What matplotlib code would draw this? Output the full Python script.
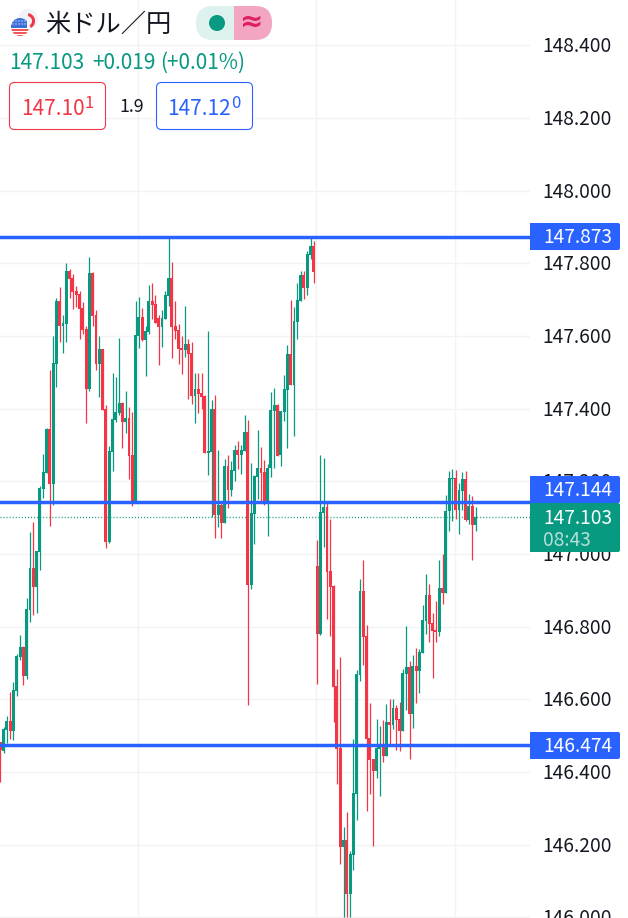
import numpy as np
import matplotlib
matplotlib.use("Agg")
import matplotlib.pyplot as plt
from matplotlib.patches import Circle, FancyBboxPatch, Rectangle, Wedge
from matplotlib.transforms import ScaledTranslation

plt.rcParams["font.family"] = ["Noto Sans CJK JP", "DejaVu Sans"]

UP = "#089981"
DOWN = "#F23645"
BLUE = "#2962FF"
GRID = "#F3F3F3"
DARK = "#131722"

opens = [
    146.483, 146.458, 146.516, 146.540, 146.513, 146.623, 146.717, 146.744, 146.664, 146.846,
    146.961, 146.909, 147.006, 147.179, 147.223, 147.344, 147.193, 147.523, 147.696, 147.628,
    147.633, 147.779, 147.760, 147.724, 147.716, 147.677, 147.619, 147.454, 147.773, 147.658,
    147.523, 147.564, 147.399, 147.033, 147.281, 147.369, 147.388, 147.416, 147.363, 147.374,
    147.272, 147.146, 147.600, 147.652, 147.589, 147.611, 147.696, 147.688, 147.650, 147.625,
    147.647, 147.710, 147.760, 147.628, 147.617, 147.567, 147.562, 147.578, 147.553, 147.435,
    147.454, 147.443, 147.435, 147.278, 147.281, 147.399, 147.107, 147.135, 147.085, 147.242,
    147.176, 147.228, 147.286, 147.272, 147.284, 147.336, 146.915, 147.110, 147.212, 147.237,
    147.226, 147.140, 147.237, 147.394, 147.410, 147.272, 147.391, 147.451, 147.551, 147.465,
    147.639, 147.696, 147.768, 147.732, 147.823, 147.848, 146.967, 146.780, 147.113, 147.129,
    146.953, 146.912, 146.637, 146.466, 146.194, 146.213, 146.064, 146.171, 146.339, 146.667,
    146.898, 146.774, 146.494, 146.436, 146.403, 146.463, 146.472, 146.444, 146.538, 146.529,
    146.576, 146.546, 146.513, 146.670, 146.689, 146.560, 146.692, 146.678, 146.728, 146.816,
    146.887, 146.810, 146.791, 146.785, 146.906, 146.893, 147.118, 147.206, 147.209, 147.121,
    147.173, 147.206, 147.094, 147.132, 147.080,
]
closes = [
    146.461, 146.518, 146.540, 146.513, 146.626, 146.719, 146.744, 146.664, 146.849, 146.961,
    146.909, 147.008, 147.182, 147.226, 147.344, 147.193, 147.526, 147.696, 147.628, 147.636,
    147.779, 147.757, 147.721, 147.713, 147.674, 147.617, 147.454, 147.773, 147.655, 147.523,
    147.564, 147.396, 147.033, 147.284, 147.372, 147.391, 147.416, 147.363, 147.374, 147.270,
    147.146, 147.603, 147.652, 147.589, 147.614, 147.696, 147.685, 147.636, 147.625, 147.650,
    147.713, 147.760, 147.625, 147.614, 147.564, 147.562, 147.578, 147.551, 147.435, 147.454,
    147.440, 147.432, 147.278, 147.284, 147.399, 147.107, 147.135, 147.085, 147.242, 147.176,
    147.231, 147.286, 147.272, 147.286, 147.336, 146.915, 147.113, 147.215, 147.237, 147.223,
    147.140, 147.237, 147.396, 147.410, 147.270, 147.394, 147.454, 147.551, 147.465, 147.641,
    147.699, 147.768, 147.732, 147.826, 147.848, 147.776, 146.780, 147.116, 147.129, 146.950,
    146.909, 146.634, 146.463, 146.194, 146.213, 146.064, 146.174, 146.342, 146.670, 146.898,
    146.772, 146.491, 146.433, 146.403, 146.466, 146.469, 146.444, 146.538, 146.529, 146.576,
    146.543, 146.513, 146.672, 146.689, 146.560, 146.692, 146.678, 146.730, 146.818, 146.887,
    146.807, 146.788, 146.785, 146.906, 146.893, 147.118, 147.209, 147.209, 147.121, 147.176,
    147.206, 147.094, 147.132, 147.080, 147.103,
]
highs = [
    146.483, 146.524, 146.554, 146.620, 146.648, 146.725, 146.777, 146.747, 146.879, 147.061,
    147.088, 147.008, 147.187, 147.275, 147.347, 147.506, 147.600, 147.705, 147.735, 147.658,
    147.801, 147.784, 147.771, 147.738, 147.724, 147.694, 147.628, 147.818, 147.776, 147.672,
    147.600, 147.564, 147.410, 147.297, 147.498, 147.487, 147.595, 147.418, 147.449, 147.405,
    147.391, 147.696, 147.707, 147.677, 147.628, 147.740, 147.746, 147.713, 147.658, 147.672,
    147.724, 147.873, 147.804, 147.696, 147.633, 147.600, 147.683, 147.592, 147.584, 147.498,
    147.498, 147.498, 147.438, 147.614, 147.424, 147.438, 147.286, 147.146, 147.261, 147.272,
    147.256, 147.300, 147.311, 147.300, 147.383, 147.369, 147.250, 147.217, 147.341, 147.295,
    147.259, 147.248, 147.446, 147.457, 147.413, 147.394, 147.493, 147.575, 147.699, 147.680,
    147.746, 147.779, 147.779, 147.834, 147.870, 147.862, 147.039, 147.272, 147.264, 147.146,
    147.096, 146.915, 146.683, 146.717, 146.249, 146.290, 146.182, 146.491, 146.681, 146.931,
    146.983, 146.805, 146.590, 146.436, 146.546, 146.527, 146.543, 146.587, 146.601, 146.601,
    146.584, 146.593, 146.683, 146.802, 146.705, 146.722, 146.741, 146.739, 146.860, 146.945,
    146.917, 146.838, 146.871, 146.983, 147.000, 147.162, 147.228, 147.234, 147.231, 147.195,
    147.226, 147.228, 147.165, 147.160, 147.129,
]
lows = [
    146.372, 146.452, 146.480, 146.491, 146.488, 146.609, 146.708, 146.639, 146.656, 146.813,
    146.832, 146.838, 146.956, 147.154, 147.223, 147.077, 147.135, 147.460, 147.584, 147.553,
    147.584, 147.705, 147.674, 147.680, 147.592, 147.606, 147.361, 147.449, 147.628, 147.506,
    147.432, 147.396, 147.017, 147.030, 147.228, 147.363, 147.383, 147.292, 147.333, 147.206,
    147.132, 147.146, 147.567, 147.586, 147.490, 147.606, 147.647, 147.636, 147.520, 147.570,
    147.647, 147.683, 147.540, 147.592, 147.523, 147.495, 147.542, 147.427, 147.413, 147.361,
    147.388, 147.399, 147.278, 147.217, 147.102, 147.044, 147.074, 147.044, 147.085, 147.127,
    147.160, 147.201, 147.234, 147.220, 147.284, 146.584, 146.904, 147.028, 147.151, 147.146,
    147.135, 147.050, 147.212, 147.237, 147.270, 147.242, 147.366, 147.292, 147.465, 147.325,
    147.592, 147.696, 147.702, 147.713, 147.812, 147.746, 146.642, 146.777, 147.019, 146.821,
    146.774, 146.538, 146.367, 146.147, 146.000, 146.000, 146.000, 146.130, 146.268, 146.650,
    146.694, 146.293, 146.339, 146.196, 146.383, 146.334, 146.427, 146.444, 146.477, 146.518,
    146.461, 146.458, 146.513, 146.571, 146.436, 146.521, 146.590, 146.617, 146.728, 146.780,
    146.758, 146.659, 146.758, 146.774, 146.862, 146.893, 147.063, 147.091, 147.096, 147.055,
    147.121, 147.091, 147.083, 146.983, 147.063,
]

y_ticks = [146.0, 146.2, 146.4, 146.6, 146.8, 147.0, 147.2, 147.4, 147.6, 147.8, 148.0, 148.2, 148.4]
time_grid = [42, 96, 138]
levels = [147.873, 147.144, 146.474]
last_price = 147.103


def price_tag(ov, top, bottom, color):
    # square on the chart side, small round corners on the right
    ov.add_patch(FancyBboxPatch((534, top), 86, bottom - top, boxstyle="round,pad=0,rounding_size=2",
                                fc=color, ec="none", zorder=3))
    ov.add_patch(Rectangle((530, top), 20, bottom - top, fc=color, ec="none", zorder=3))


def main():
    fig = plt.figure(figsize=(6.28, 9.18), dpi=100, facecolor="white")
    ax = fig.add_axes([0, 0, 530 / 628, 1])

    idx = np.arange(len(opens))
    o, h, l, c = map(np.array, (opens, highs, lows, closes))
    colors = np.where(c >= o, UP, DOWN)

    for t in y_ticks:
        ax.axhline(t, color=GRID, lw=1, zorder=0)
    for t in time_grid:
        ax.axvline(t - 0.2, color=GRID, lw=1, zorder=0)

    ax.vlines(idx, l, h, colors=colors, lw=0.9, zorder=2)
    ax.bar(idx, np.abs(c - o), bottom=np.minimum(o, c), width=0.88, color=colors, linewidth=0, zorder=2)

    ax.axhline(last_price, color=UP, lw=1, dashes=(0.7, 1.5), zorder=1)
    for lev in levels:
        ax.axhline(lev, color=BLUE, lw=2.5, zorder=3)

    ax.set_xlim(-0.09, 160.5)
    ax.set_ylim(145.998, 148.525)
    ax.yaxis.tick_right()
    ax.set_yticks(y_ticks, [f"{t:.3f}" for t in y_ticks])
    ax.tick_params(axis="y", length=0, pad=8.8, labelsize=13.8, labelcolor=DARK)
    ax.set_xticks([])
    lift = ScaledTranslation(0, 1 / 100, fig.dpi_scale_trans)
    for lab in ax.get_yticklabels():
        lab.set_transform(lab.get_transform() + lift)
    for s in ax.spines.values():
        s.set_visible(False)

    # header and price tags, laid out in pixels on a clear top layer
    ov = fig.add_axes([0, 0, 1, 1], zorder=5)
    ov.set_xlim(0, 628)
    ov.set_ylim(918, 0)
    ov.axis("off")
    ov.patch.set_alpha(0)

    price_tag(ov, 223, 250, BLUE)
    price_tag(ov, 476, 503, BLUE)
    price_tag(ov, 503, 552, UP)
    price_tag(ov, 732, 759, BLUE)
    ov.text(577.5, 237.5, "147.873", color="white", fontsize=13.8, ha="center", va="center", zorder=4)
    ov.text(577.5, 490.5, "147.144", color="white", fontsize=13.8, ha="center", va="center", zorder=4)
    ov.text(577.5, 518, "147.103", color="white", fontsize=13.8, ha="center", va="center", zorder=4)
    ov.text(543, 541, "08:43", color="#B5E0D8", fontsize=13.8, ha="left", va="center", zorder=4)
    ov.text(577.5, 746.5, "146.474", color="white", fontsize=13.8, ha="center", va="center", zorder=4)

    # flag icon
    ov.add_patch(Circle((28, 19), 10, fc="#F0F3FA", ec="none"))
    ov.add_patch(Wedge((27, 21), 8, 280, 60, width=3, fc="#F23645", ec="none"))
    ov.add_patch(Circle((20, 27), 9.5, fc="white", ec="none"))
    flag = Circle((20, 27), 9, transform=ov.transData)
    for y0 in (28.5, 32, 35):
        r = ov.add_patch(Rectangle((10, y0), 20, 2, fc="#F2555A", ec="none"))
        r.set_clip_path(flag)
    r = ov.add_patch(Rectangle((10, 18), 17, 10, fc="#3D6FD8", ec="none"))
    r.set_clip_path(flag)
    for dx in (13, 16, 19, 22, 25):
        for dy in (21, 24):
            ov.add_patch(Circle((dx, dy), 0.6, fc="white", ec="none"))

    ov.text(45.5, 24.5, "米ドル／円", color=DARK, fontsize=18.2, ha="left", va="center")

    # status pill
    pill = FancyBboxPatch((196, 6), 76, 34, boxstyle="round,pad=0,rounding_size=17",
                          fc="#DDF2EF", ec="none")
    ov.add_patch(pill)
    right = ov.add_patch(Rectangle((234, 6), 38, 34, fc="#F2A6C2", ec="none"))
    right.set_clip_path(pill)
    ov.add_patch(Circle((217, 23), 8, fc=UP, ec="none"))
    ov.text(251.5, 22, "≈", color="#E01E63", fontsize=20, fontweight="bold", family="DejaVu Sans",
            ha="center", va="center")

    ov.text(9.5, 63, "147.103", color=UP, fontsize=15, ha="left", va="center")
    ov.text(92.5, 63, "+0.019", color=UP, fontsize=15, ha="left", va="center")
    ov.text(160, 63, "(+0.01%)", color=UP, fontsize=15, ha="left", va="center")

    ov.add_patch(FancyBboxPatch((9.5, 82.5), 96, 47, boxstyle="round,pad=0,rounding_size=5",
                                fc="white", ec=DOWN, lw=0.8))
    ov.text(21.5, 109, "147.10", color=DOWN, fontsize=15, ha="left", va="center")
    ov.text(85, 103.5, "1", color=DOWN, fontsize=12, ha="left", va="center")
    ov.text(119, 107, "1.9", color=DARK, fontsize=12.8, ha="left", va="center")
    ov.add_patch(FancyBboxPatch((156.5, 82.5), 96, 47, boxstyle="round,pad=0,rounding_size=5",
                                fc="white", ec=BLUE, lw=0.8))
    ov.text(167.5, 109, "147.12", color=BLUE, fontsize=15, ha="left", va="center")
    ov.text(231, 103.5, "0", color=BLUE, fontsize=12, ha="left", va="center")

    fig.savefig("out.png", dpi=100)


if __name__ == "__main__":
    main()
